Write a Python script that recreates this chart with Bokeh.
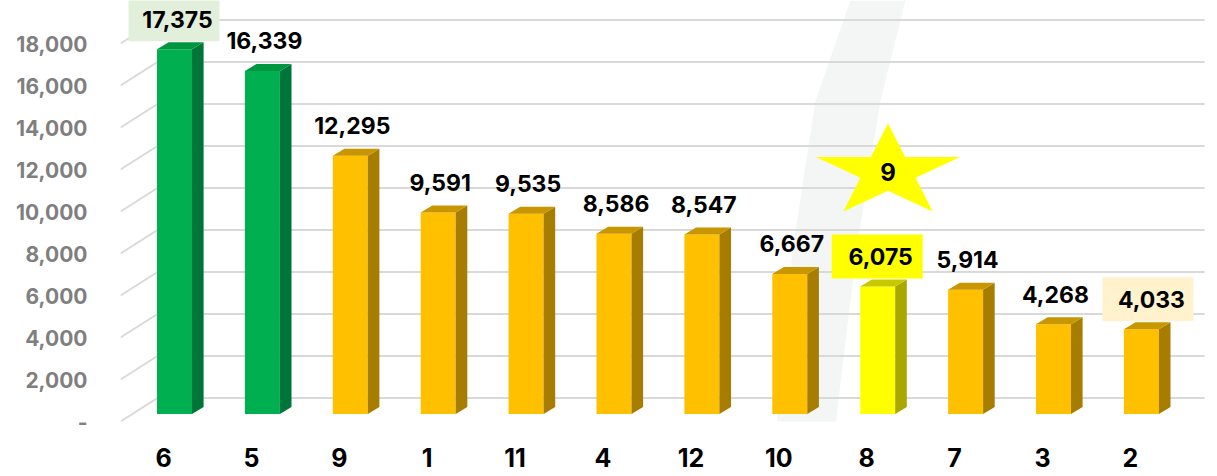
import math
from bokeh.plotting import figure
from bokeh.models import Range1d, FixedTicker
from bokeh.embed import file_html
from bokeh.resources import INLINE
from bokeh.core.properties import value

# ---------------- data ----------------
categories = ["6", "5", "9", "1", "11", "4", "12", "10", "8", "7", "3", "2"]
values = [17375, 16339, 12295, 9591, 9535, 8586, 8547, 6667, 6075, 5914, 4268, 4033]
y_ticks = [0, 2000, 4000, 6000, 8000, 10000, 12000, 14000, 16000, 18000]
y_tick_labels = ["-", "2,000", "4,000", "6,000", "8,000", "10,000",
                 "12,000", "14,000", "16,000", "18,000"]
highlight_category = "8"
star_label = "9"

# ---------------- geometry (picture pixels) ----------------
FRAME_L, FRAME_T, FRAME_W, FRAME_H = 120, 0, 1090, 421
X0, SX = 163.0, 87.9        # x of first category (floor front), px per category
Y0, K = 421.0, 0.021        # y of zero (floor front), px per unit


def dx(px):
    return px / SX


def dy(px):
    return px / K


def px_x(x):
    return (x - X0) / SX


def px_y(y):
    return (Y0 - y) / K


x_start = (FRAME_L - X0) / SX
x_end = x_start + FRAME_W / SX
y_end = FRAME_H / K

FONT = "Inter"

p = figure(frame_width=FRAME_W, frame_height=FRAME_H,
           x_range=Range1d(x_start, x_end), y_range=Range1d(0, y_end),
           output_backend="svg", toolbar_location=None,
           min_border_left=FRAME_L, min_border_right=0,
           min_border_top=0, min_border_bottom=55,
           background_fill_color="white", border_fill_color="white",
           outline_line_color=None)
p.xgrid.visible = False
p.ygrid.visible = False

# faint decorative swoosh in the background
sw_left = [(850, 0), (815, 100), (792, 250), (778, 400), (772, 476)]
sw_right = [(830, 476), (838, 400), (856, 250), (880, 100), (905, 0)]
sw_pts = sw_left + sw_right
p.patch([px_x(x) for x, _ in sw_pts], [px_y(y) for _, y in sw_pts],
        fill_color="#F4F6F5", line_color=None)

# gridlines on floor / back wall
g_xs, g_ys = [], []
gx_end = px_x(1204)
for t in y_ticks:
    g_xs.append([x_start, x_start + dx(37), gx_end])
    g_ys.append([t, t + dy(23.5), t + dy(23.5)])
p.multi_line(g_xs, g_ys, line_color="#D9D9D9", line_width=2)

# bars (front, side, top)
palette = {
    "green": ("#00B050", "#00753A", "#00963F"),
    "gold": ("#FFC000", "#A67D00", "#C89600"),
    "yellow": ("#FFFF00", "#A8A800", "#C8C800"),
}
lift = dy(7.5)
half_w = dx(17.5)
off_x = dx(11)
depth_x = dx(11.6)
depth_y = dy(7)

for i, (cat, v) in enumerate(zip(categories, values)):
    if i < 2:
        key = "green"
    elif cat == highlight_category:
        key = "yellow"
    else:
        key = "gold"
    front, side, top = palette[key]
    cx = i + off_x
    L, R = cx - half_w, cx + half_w
    b, tp = lift, v + lift
    p.quad(left=L, right=R, bottom=b, top=tp, fill_color=front, line_color=None)
    p.patch([R, R + depth_x, R + depth_x, R], [b, b + depth_y, tp + depth_y, tp],
            fill_color=side, line_color=None)
    p.patch([L, R, R + depth_x, L + depth_x], [tp, tp, tp + depth_y, tp + depth_y],
            fill_color=top, line_color=None)

# value labels with highlight boxes
box_styles = {0: ("#E2EFDA", 3), 8: ("#FFFF00", 3), 11: ("#FFF2CC", 10)}
for i, (cat, v) in enumerate(zip(categories, values)):
    tx = i + off_x + dx(box_styles.get(i, (None, 2))[1])
    ty = v + lift + dy(30)
    if i in box_styles:
        col = box_styles[i][0]
        bxc = tx - dx(3.5)
        p.quad(left=bxc - dx(45.5), right=bxc + dx(45.5),
               bottom=ty - dy(22), top=ty + dy(22), fill_color=col, line_color=None)
    p.text(x=[tx], y=[ty], text=[f"{v:,}"], text_align="center", text_baseline="middle",
           text_font=value(FONT), text_font_style="bold", text_font_size="23px",
           text_color="#000000")

# star annotation above the highlighted bar
hi = categories.index(highlight_category)
scx = hi + dx(21.3)
scy = px_y(171.5)
Rx, Ry = 76.0, 48.8
st_x, st_y = [], []
for k in range(10):
    a = math.radians(90 + 36 * k)
    r = 1.0 if k % 2 == 0 else 0.382
    st_x.append(scx + dx(Rx * r * math.cos(a)))
    st_y.append(scy + dy(Ry * r * math.sin(a)))
p.patch(st_x, st_y, fill_color="#FFFF00", line_color=None)
p.text(x=[scx], y=[scy], text=[star_label], text_align="center", text_baseline="middle",
       text_font=value(FONT), text_font_style="bold", text_font_size="24px",
       text_color="#000000")

# axes
p.yaxis.ticker = FixedTicker(ticks=y_ticks)
p.yaxis.major_label_overrides = {t: lab for t, lab in zip(y_ticks, y_tick_labels)}
p.yaxis.axis_line_color = None
p.yaxis.major_tick_line_color = None
p.yaxis.minor_tick_line_color = None
p.yaxis.major_label_standoff = 27
p.yaxis.major_label_text_font = FONT
p.yaxis.major_label_text_font_style = "bold"
p.yaxis.major_label_text_font_size = "21px"
p.yaxis.major_label_text_color = "#7F7F7F"

p.xaxis.ticker = FixedTicker(ticks=list(range(len(categories))))
p.xaxis.major_label_overrides = {i: c for i, c in enumerate(categories)}
p.xaxis.axis_line_color = None
p.xaxis.major_tick_line_color = None
p.xaxis.minor_tick_line_color = None
p.xaxis.major_label_standoff = 20
p.xaxis.major_label_text_font = FONT
p.xaxis.major_label_text_font_style = "bold"
p.xaxis.major_label_text_font_size = "25px"
p.xaxis.major_label_text_color = "#000000"

open("out.html", "w").write(file_html(p, INLINE))
